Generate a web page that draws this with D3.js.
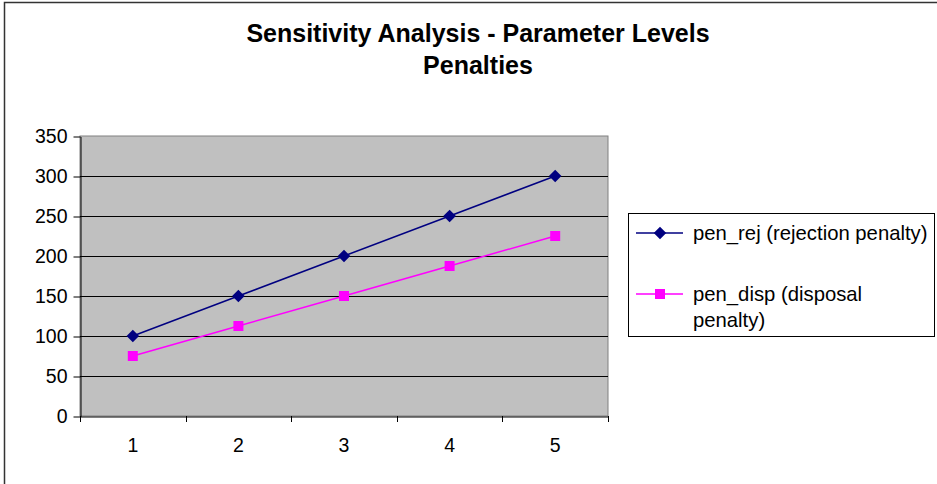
<!DOCTYPE html>
<html><head><meta charset="utf-8">
<script src="https://cdn.jsdelivr.net/npm/d3@7"></script>
<style>body{margin:0;background:#fff;}svg{display:block;font-family:"Liberation Sans",Arial,sans-serif;}</style>
</head><body>
<script>
const categories = [1, 2, 3, 4, 5];
const penRej = [100, 150, 200, 250, 300];
const penDisp = [75, 112.5, 150, 187.5, 225];
const yTicks = [0, 50, 100, 150, 200, 250, 300, 350];
const titleLines = ["Sensitivity Analysis - Parameter Levels", "Penalties"];
const seriesNames = [["pen_rej (rejection penalty)"], ["pen_disp (disposal", "penalty)"]];

const W = 937, H = 484;
const svg = d3.select("body").append("svg").attr("width", W).attr("height", H);

// outer chart frame
svg.append("rect").attr("x", 4.5).attr("y", 2.5).attr("width", W + 10).attr("height", H + 10)
  .attr("fill", "#fff").attr("stroke", "#333").attr("stroke-width", 1.5);

const pl = 80, pt = 136, pr = 608, pb = 416;
const x = d3.scaleBand().domain(categories).range([pl, pr]);
const y = d3.scaleLinear().domain([0, 350]).range([pb, pt]);

svg.append("rect").attr("x", pl).attr("y", pt).attr("width", pr - pl).attr("height", pb - pt)
  .attr("fill", "#C0C0C0").attr("stroke", "#808080").attr("stroke-width", 1);

// gridlines
svg.append("g").selectAll("line").data(yTicks.filter(d => d > 0 && d < 350)).join("line")
  .attr("x1", pl).attr("x2", pr).attr("y1", d => Math.round(y(d)) + 0.5).attr("y2", d => Math.round(y(d)) + 0.5)
  .attr("stroke", "#000").attr("stroke-width", 1);

// y axis
const yAx = svg.append("g").attr("transform", `translate(${pl + 0.5},0.5)`)
  .call(d3.axisLeft(y).tickValues(yTicks).tickSize(7).tickPadding(6).tickSizeOuter(0));
yAx.select(".domain").attr("stroke", "#000");
yAx.selectAll(".tick line").attr("stroke", "#000");
yAx.selectAll("text").attr("font-size", 19.5).attr("fill", "#000").attr("font-family", "Liberation Sans, Arial, sans-serif");

// x axis
const xAx = svg.append("g").attr("transform", `translate(0,${pb + 0.5})`)
  .call(d3.axisBottom(x).tickSize(0).tickPadding(22));
xAx.select(".domain").attr("stroke", "#000");
xAx.selectAll("text").attr("font-size", 19.5).attr("fill", "#000").attr("font-family", "Liberation Sans, Arial, sans-serif");
// category boundary ticks
const bounds = categories.map(c => x(c)).concat([pr]);
svg.append("g").selectAll("line").data(bounds).join("line")
  .attr("x1", d => Math.round(d) + 0.5).attr("x2", d => Math.round(d) + 0.5)
  .attr("y1", pb).attr("y2", pb + 6).attr("stroke", "#000");

const cx = c => x(c) + x.bandwidth() / 2;
const line = d3.line().x((d, i) => cx(categories[i])).y(d => y(d));

svg.append("path").datum(penRej).attr("d", line).attr("fill", "none").attr("stroke", "#000080").attr("stroke-width", 1.5);
svg.append("path").datum(penDisp).attr("d", line).attr("fill", "none").attr("stroke", "#FF00FF").attr("stroke-width", 1.5);

const diamond = d3.symbol().type(d3.symbolDiamond2).size(100);
svg.append("g").selectAll("path").data(penRej).join("path")
  .attr("d", diamond).attr("transform", (d, i) => `translate(${cx(categories[i])},${y(d)})`)
  .attr("fill", "#000080");
svg.append("g").selectAll("rect").data(penDisp).join("rect")
  .attr("x", (d, i) => cx(categories[i]) - 5).attr("y", d => y(d) - 5)
  .attr("width", 10).attr("height", 10).attr("fill", "#FF00FF");

// title
svg.append("g").selectAll("text").data(titleLines).join("text")
  .attr("x", 478).attr("y", (d, i) => 42 + i * 32)
  .attr("text-anchor", "middle").attr("font-size", 25).attr("font-weight", "bold").attr("fill", "#000")
  .text(d => d);

// legend
const lg = svg.append("g");
lg.append("rect").attr("x", 628.5).attr("y", 213.5).attr("width", 306).attr("height", 123)
  .attr("fill", "#fff").attr("stroke", "#000");
const rowsY = [233, 294];
const colors = ["#000080", "#FF00FF"];
rowsY.forEach((ry, i) => {
  lg.append("line").attr("x1", 636).attr("x2", 683).attr("y1", ry).attr("y2", ry)
    .attr("stroke", colors[i]).attr("stroke-width", 1.5);
  if (i === 0) {
    lg.append("path").attr("d", diamond).attr("transform", `translate(660,${ry})`).attr("fill", colors[i]);
  } else {
    lg.append("rect").attr("x", 655).attr("y", ry - 5).attr("width", 10).attr("height", 10).attr("fill", colors[i]);
  }
  seriesNames[i].forEach((t, j) => {
    lg.append("text").attr("x", 693).attr("y", ry + 7 + j * 26).attr("font-size", 20.3).attr("fill", "#000").text(t);
  });
});
</script>
</body></html>
